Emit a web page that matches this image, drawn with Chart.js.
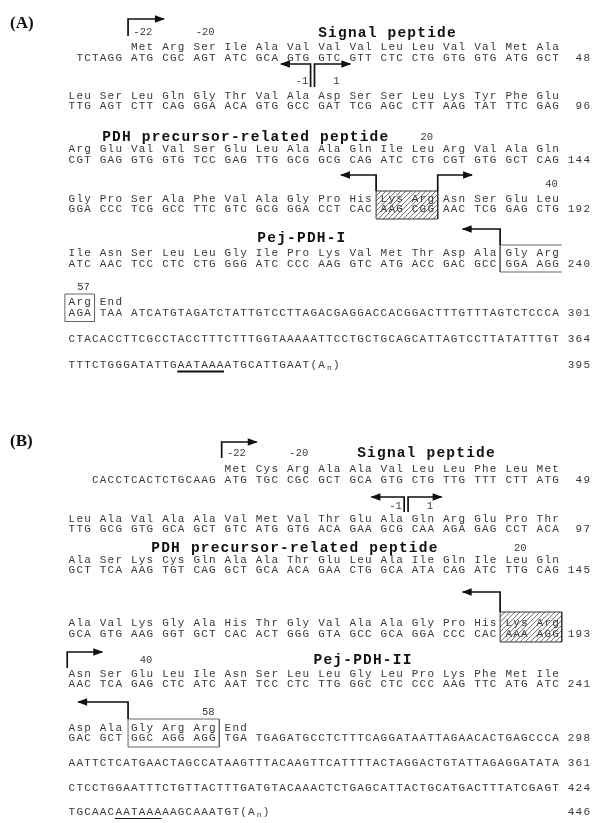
<!DOCTYPE html>
<html>
<head>
<meta charset="utf-8">
<script src="https://cdn.jsdelivr.net/npm/chart.js@4.4.0/dist/chart.umd.min.js"></script>
<style>
  html, body { margin: 0; padding: 0; background: #fff; }
</style>
</head>
<body>
<canvas id="secuencias" width="592" height="823"></canvas>
<script>
// ---- Panel A: Pej-PDH-I ----
const aLead = 'TCTAGG';
const aAmino = [
  ['Met','Arg','Ser','Ile','Ala','Val','Val','Val','Leu','Leu','Val','Val','Met','Ala'],
  ['Leu','Ser','Leu','Gln','Gly','Thr','Val','Ala','Asp','Ser','Ser','Leu','Lys','Tyr','Phe','Glu'],
  ['Arg','Glu','Val','Val','Ser','Glu','Leu','Ala','Ala','Gln','Ile','Leu','Arg','Val','Ala','Gln'],
  ['Gly','Pro','Ser','Ala','Phe','Val','Ala','Gly','Pro','His','Lys','Arg','Asn','Ser','Glu','Leu'],
  ['Ile','Asn','Ser','Leu','Leu','Gly','Ile','Pro','Lys','Val','Met','Thr','Asp','Ala','Gly','Arg'],
  ['Arg','End']
];
const aCodons = [
  ['ATG','CGC','AGT','ATC','GCA','GTG','GTC','GTT','CTC','CTG','GTG','GTG','ATG','GCT'],
  ['TTG','AGT','CTT','CAG','GGA','ACA','GTG','GCC','GAT','TCG','AGC','CTT','AAG','TAT','TTC','GAG'],
  ['CGT','GAG','GTG','GTG','TCC','GAG','TTG','GCG','GCG','CAG','ATC','CTG','CGT','GTG','GCT','CAG'],
  ['GGA','CCC','TCG','GCC','TTC','GTC','GCG','GGA','CCT','CAC','AAG','CGG','AAC','TCG','GAG','CTG'],
  ['ATC','AAC','TCC','CTC','CTG','GGG','ATC','CCC','AAG','GTC','ATG','ACC','GAC','GCC','GGA','AGG'],
  ['AGA','TAA']
];
const aTail = 'ATCATGTAGATCTATTGTCCTTAGACGAGGACCACGGACTTTGTTTAGTCTCCCA';
const aUtr = [
  'CTACACCTTCGCCTACCTTTCTTTGGTAAAAATTCCTGCTGCAGCATTAGTCCTTATATTTGT',
  'TTTCTGGGATATTGAATAAAATGCATTGAAT'
];
const aTotals = ['48','96','144','192','240','301','364','395'];
const aMarks = ['-22','-20','-1','1','20','40','57'];
const aPeptides = ['Signal peptide','PDH precursor-related peptide','Pej-PDH-I'];

// ---- Panel B: Pej-PDH-II ----
const bLead = 'CACCTCACTCTGCAAG';
const bAmino = [
  ['Met','Cys','Arg','Ala','Ala','Val','Leu','Leu','Phe','Leu','Met'],
  ['Leu','Ala','Val','Ala','Ala','Val','Met','Val','Thr','Glu','Ala','Gln','Arg','Glu','Pro','Thr'],
  ['Ala','Ser','Lys','Cys','Gln','Ala','Ala','Thr','Glu','Leu','Ala','Ile','Gln','Ile','Leu','Gln'],
  ['Ala','Val','Lys','Gly','Ala','His','Thr','Gly','Val','Ala','Ala','Gly','Pro','His','Lys','Arg'],
  ['Asn','Ser','Glu','Leu','Ile','Asn','Ser','Leu','Leu','Gly','Leu','Pro','Lys','Phe','Met','Ile'],
  ['Asp','Ala','Gly','Arg','Arg','End']
];
const bCodons = [
  ['ATG','TGC','CGC','GCT','GCA','GTG','CTG','TTG','TTT','CTT','ATG'],
  ['TTG','GCG','GTG','GCA','GCT','GTC','ATG','GTG','ACA','GAA','GCG','CAA','AGA','GAG','CCT','ACA'],
  ['GCT','TCA','AAG','TGT','CAG','GCT','GCA','ACA','GAA','CTG','GCA','ATA','CAG','ATC','TTG','CAG'],
  ['GCA','GTG','AAG','GGT','GCT','CAC','ACT','GGG','GTA','GCC','GCA','GGA','CCC','CAC','AAA','AGG'],
  ['AAC','TCA','GAG','CTC','ATC','AAT','TCC','CTC','TTG','GGC','CTC','CCC','AAG','TTC','ATG','ATC'],
  ['GAC','GCT','GGC','AGG','AGG','TGA']
];
const bTail = 'TGAGATGCCTCTTTCAGGATAATTAGAACACTGAGCCCA';
const bUtr = [
  'AATTCTCATGAACTAGCCATAAGTTTACAAGTTCATTTTACTAGGACTGTATTAGAGGATATA',
  'CTCCTGGAATTTCTGTTACTTTGATGTACAAACTCTGAGCATTACTGCATGACTTTATCGAGT',
  'TGCAACAATAAAAAGCAAATGT'
];
const bTotals = ['49','97','145','193','241','298','361','424','446'];
const bMarks = ['-22','-20','-1','1','20','40','58'];
const bPeptides = ['Signal peptide','PDH precursor-related peptide','Pej-PDH-II'];

const polyASignal = 'AATAAA';

// ---- Disposición (columnas de caracteres en x, píxeles en y) ----
const anchoLetra = 7.8;
const margenIzq = 68;

const layoutA = {
  etiqueta: '(A)', etiquetaY: 24,
  inicioLead: 1, primeraCol: 2,
  filasY: [[47, 58], [96, 106.5], [149, 160], [199, 209.5], [253.5, 264], [302, 313]],
  utrY: [339, 365],
  marcasY: [32, 32, 81, 81, 137, 184, 287],
  titulos: [[32, 33], [4.3, 137], [24.2, 238]],
  flechas: [
    [[7.7, 36], [7.7, 19], [12.3, 19]],
    [[31.1, 87], [31.1, 64], [27.3, 64]],
    [[31.6, 87], [31.6, 64], [36.2, 64]],
    [[39.5, 191], [39.5, 175], [35, 175]],
    [[47.4, 191], [47.4, 175], [51.8, 175]],
    [[55.4, 245], [55.4, 229], [50.6, 229]]
  ],
  cajas: [
    { pts: [[39.5, 191], [47.4, 191], [47.4, 219], [39.5, 219], [39.5, 191]], trama: true },
    { pts: [[63.3, 245], [55.4, 245], [55.4, 272], [63.3, 272]] },
    { pts: [[-0.4, 294], [3.4, 294], [3.4, 321.5], [-0.4, 321.5], [-0.4, 294]] }
  ],
  grosorSubrayado: 2.2
};

const layoutB = {
  etiqueta: '(B)', etiquetaY: 442,
  inicioLead: 3, primeraCol: 5,
  filasY: [[469.5, 480], [519, 529.5], [560, 570.5], [623.5, 634], [674, 684.5], [728, 738.5]],
  utrY: [763, 788.5, 812],
  marcasY: [453, 453, 506, 506, 548.5, 660, 712],
  titulos: [[37, 453.5], [10.6, 548.5], [31.4, 660]],
  flechas: [
    [[19.7, 458], [19.7, 442], [24.2, 442]],
    [[43.1, 512], [43.1, 497], [38.9, 497]],
    [[43.6, 512], [43.6, 497], [47.9, 497]],
    [[55.4, 612], [55.4, 592], [50.6, 592]],
    [[-0.1, 668], [-0.1, 652], [4.4, 652]],
    [[7.7, 719], [7.7, 702], [1.3, 702]]
  ],
  cajas: [
    { pts: [[55.4, 612], [63.3, 612], [63.3, 642], [55.4, 642], [55.4, 612]], trama: true },
    { pts: [[7.7, 719], [19.4, 719], [19.4, 747], [7.7, 747], [7.7, 719]] }
  ],
  grosorSubrayado: 1
};

const estilos = {
  seq:    { font: '11px "Liberation Mono"', color: '#383838', paso: 1 },
  titulo: { font: 'bold 14.5px "Liberation Mono"', color: '#111', paso: 1.27 },
  marca:  { font: '10.5px "Liberation Mono"', color: '#3a3a3a', align: 'right' },
  panel:  { font: 'bold 17px "Liberation Serif"', color: '#111', align: 'left' },
  sub:    { font: '8px "Liberation Mono"', color: '#383838', paso: 1, dy: 3 }
};

// columna (0-15) de un residuo numerado
function columnaResiduo(numero, primeraCol, n0) {
  let idx = numero < 0 ? numero + 22 : numero + 21;
  if (idx < n0) return primeraCol + idx;
  idx -= n0;
  return idx % 16;
}

function construirPanel(d, lay) {
  const textos = [];
  const lineas = [];

  textos.push({ x: (-margenIzq + 10) / anchoLetra, y: lay.etiquetaY, text: lay.etiqueta, estilo: 'panel' });
  textos.push({ x: lay.inicioLead, y: lay.filasY[0][1], text: d.lead, estilo: 'seq' });

  d.amino.forEach((fila, i) => {
    const c0 = i === 0 ? lay.primeraCol : 0;
    fila.forEach((aa, j) => textos.push({ x: (c0 + j) * 4, y: lay.filasY[i][0], text: aa, estilo: 'seq' }));
    d.codons[i].forEach((cod, j) => textos.push({ x: (c0 + j) * 4, y: lay.filasY[i][1], text: cod, estilo: 'seq' }));
  });

  const ult = d.codons.length - 1;
  textos.push({ x: d.codons[ult].length * 4, y: lay.filasY[ult][1], text: d.tail, estilo: 'seq' });
  d.utr.forEach((s, k) => textos.push({ x: 0, y: lay.utrY[k], text: s, estilo: 'seq' }));

  // cola poli(A)
  const ultUtr = d.utr[d.utr.length - 1];
  const yUlt = lay.utrY[lay.utrY.length - 1];
  textos.push({ x: ultUtr.length, y: yUlt, text: '(A', estilo: 'seq' });
  textos.push({ x: ultUtr.length + 2, y: yUlt, text: 'n', estilo: 'sub' });
  textos.push({ x: ultUtr.length + 2.9, y: yUlt, text: ')', estilo: 'seq' });

  // numeración de nucleótidos
  const yTot = lay.filasY.map(r => r[1]).concat(lay.utrY);
  d.totals.forEach((t, k) => textos.push({ x: 67 - t.length, y: yTot[k], text: t, estilo: 'seq' }));

  // numeración de residuos
  d.marks.forEach((m, k) => {
    const col = columnaResiduo(parseInt(m, 10), lay.primeraCol, d.amino[0].length);
    textos.push({ x: col * 4 + 2.8, y: lay.marcasY[k], text: m, estilo: 'marca' });
  });

  d.peptides.forEach((p, k) => textos.push({ x: lay.titulos[k][0], y: lay.titulos[k][1], text: p, estilo: 'titulo' }));

  // flechas y cajas
  lay.flechas.forEach(f => lineas.push({
    data: f.map(p => ({ x: p[0], y: p[1] })),
    showLine: true, pointRadius: 0, borderColor: '#111', borderWidth: 1.7, flecha: true
  }));
  lay.cajas.forEach(c => lineas.push({
    data: c.pts.map(p => ({ x: p[0], y: p[1] })),
    showLine: true, pointRadius: 0, borderColor: c.trama ? '#333' : '#666', borderWidth: 1, trama: !!c.trama
  }));

  // subrayado de la señal AATAAA
  const ini = ultUtr.indexOf(polyASignal);
  lineas.push({
    data: [{ x: ini, y: yUlt + 6.5 }, { x: ini + polyASignal.length, y: yUlt + 6.5 }],
    showLine: true, pointRadius: 0, borderColor: '#111', borderWidth: lay.grosorSubrayado
  });

  return { textos, lineas };
}

const panelA = construirPanel({ lead: aLead, amino: aAmino, codons: aCodons, tail: aTail, utr: aUtr,
  totals: aTotals, marks: aMarks, peptides: aPeptides }, layoutA);
const panelB = construirPanel({ lead: bLead, amino: bAmino, codons: bCodons, tail: bTail, utr: bUtr,
  totals: bTotals, marks: bMarks, peptides: bPeptides }, layoutB);

const pluginTexto = {
  id: 'texto',
  afterDatasetsDraw(chart) {
    const ctx = chart.ctx;
    const xs = chart.scales.x;
    ctx.save();
    chart.data.datasets.forEach((ds, i) => {
      const meta = chart.getDatasetMeta(i);
      if (ds.tipo === 'texto') {
        ctx.textBaseline = 'middle';
        ds.data.forEach((d, j) => {
          const el = meta.data[j];
          const e = estilos[d.estilo];
          ctx.font = e.font;
          ctx.fillStyle = e.color;
          const py = el.y + (e.dy || 0);
          if (e.paso) {
            ctx.textAlign = 'center';
            for (let k = 0; k < d.text.length; k++) {
              ctx.fillText(d.text[k], xs.getPixelForValue(d.x + (k + 0.5) * e.paso), py);
            }
          } else {
            ctx.textAlign = e.align;
            ctx.fillText(d.text, el.x, py);
          }
        });
      }
      if (ds.flecha) {
        const n = meta.data.length;
        const p1 = meta.data[n - 2], p2 = meta.data[n - 1];
        const ang = Math.atan2(p2.y - p1.y, p2.x - p1.x);
        ctx.fillStyle = '#111';
        ctx.beginPath();
        ctx.moveTo(p2.x + Math.cos(ang), p2.y);
        ctx.lineTo(p2.x - 9 * Math.cos(ang) - 3.8 * Math.sin(ang), p2.y - 9 * Math.sin(ang) + 3.8 * Math.cos(ang));
        ctx.lineTo(p2.x - 9 * Math.cos(ang) + 3.8 * Math.sin(ang), p2.y - 9 * Math.sin(ang) - 3.8 * Math.cos(ang));
        ctx.closePath();
        ctx.fill();
      }
      if (ds.trama) {
        const px = meta.data.map(p => p.x), py = meta.data.map(p => p.y);
        const x0 = Math.min(...px), x1 = Math.max(...px), y0 = Math.min(...py), y1 = Math.max(...py);
        ctx.save();
        ctx.beginPath();
        ctx.rect(x0, y0, x1 - x0, y1 - y0);
        ctx.clip();
        ctx.strokeStyle = '#444';
        ctx.lineWidth = 0.8;
        const h = y1 - y0;
        for (let t = -h; t < x1 - x0 + h; t += 5) {
          ctx.beginPath();
          ctx.moveTo(x0 + t, y1);
          ctx.lineTo(x0 + t + h, y0);
          ctx.stroke();
        }
        ctx.restore();
      }
    });
    ctx.restore();
  }
};

const datasets = [
  { tipo: 'texto', data: panelA.textos.concat(panelB.textos), pointRadius: 0, showLine: false }
].concat(panelA.lineas, panelB.lineas);

new Chart(document.getElementById('secuencias'), {
  type: 'scatter',
  data: { datasets },
  options: {
    responsive: false,
    animation: false,
    events: [],
    layout: { padding: 0 },
    plugins: { legend: { display: false }, tooltip: { enabled: false } },
    scales: {
      x: { type: 'linear', min: -margenIzq / anchoLetra, max: (592 - margenIzq) / anchoLetra, display: false },
      y: { type: 'linear', min: 0, max: 823, reverse: true, display: false }
    }
  },
  plugins: [pluginTexto]
});
</script>
</body>
</html>
